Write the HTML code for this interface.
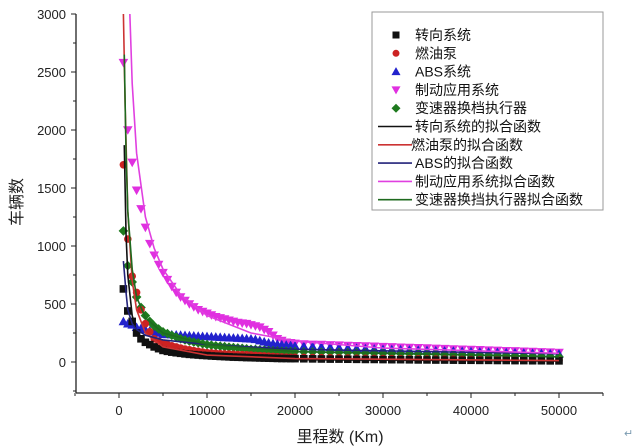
<!DOCTYPE html>
<html><head><meta charset="utf-8"><style>
body{margin:0;background:#fff;}
svg{display:block;font-family:"Liberation Sans","Noto Sans CJK SC",sans-serif;}
</style></head><body>
<svg id="chart" width="640" height="447" viewBox="0 0 640 447" xmlns="http://www.w3.org/2000/svg">
<defs><clipPath id="plotclip"><rect x="76" y="14" width="527" height="378"/></clipPath></defs>
<g id="axes"></g>
<g id="plot" clip-path="url(#plotclip)"></g>
<g id="legend"></g>
<text transform="translate(22,202) rotate(-90)" text-anchor="middle" font-size="16" fill="#222">车辆数</text>
<text x="340" y="442" text-anchor="middle" font-size="16" fill="#222">里程数 (Km)</text>
<text x="624" y="437" font-size="11" fill="#7a9ab0">↵</text>
</svg>
<script>
const xTicks=[0,10000,20000,30000,40000,50000];
const yTicks=[0,500,1000,1500,2000,2500,3000];
const seriesNames=["转向系统","燃油泵","ABS系统","制动应用系统","变速器换档执行器"];
const fitNames=["转向系统的拟合函数","燃油泵的拟合函数","ABS的拟合函数","制动应用系统拟合函数","变速器换挡执行器拟合函数"];
const dataX=[500,1000,1500,2000,2500,3000,3500,4000,4500,5000,5500,6000,6500,7000,7500,8000,8500,9000,9500,10000,10500,11000,11500,12000,12500,13000,13500,14000,14500,15000,15500,16000,16500,17000,17500,18000,18500,19000,19500,20000,
21000,22000,23000,24000,25000,26000,27000,28000,29000,30000,31000,32000,33000,34000,35000,36000,37000,38000,39000,40000,41000,42000,43000,44000,45000,46000,47000,48000,49000,50000];
const steering=[630,440,350,250,200,170,150,130,115,100,92,85,80,75,70,66,63,60,57,55,52,50,48,46,44,42,41,40,38,37,36,35,34,33,32,31,30,30,29,29,
28,27,26,25,25,24,23,22,22,21,20,20,19,18,18,17,17,16,15,15,14,14,13,13,12,12,11,11,10,10];
const fuelPump=[1700,1060,740,600,450,330,260,200,180,160,150,140,130,120,112,105,98,92,86,80,78,75,72,70,68,66,64,63,62,60,57,55,52,50,48,45,44,42,41,40,
39,38,37,36,35,34,33,32,31,30,29,28,27,26,25,25,24,23,22,22,21,20,20,19,18,18,17,16,16,15];
const absSys=[350,330,320,300,290,280,270,260,250,240,238,236,234,232,230,228,226,224,222,220,218,216,214,212,210,208,206,204,202,200,195,185,175,165,160,155,150,147,144,140,
137,134,131,128,125,122,119,116,113,110,108,106,104,102,100,98,96,94,92,90,88,86,84,82,80,78,76,74,72,70];
const brakeSys=[2580,2000,1720,1480,1320,1160,1020,920,840,770,710,650,600,560,530,500,475,450,435,420,405,390,380,370,360,350,340,335,330,320,310,300,280,260,230,200,185,170,165,160,
155,152,150,147,145,142,140,137,135,132,130,127,125,122,120,117,115,112,110,107,105,102,100,97,95,92,90,87,85,82];
const gearbox=[1130,830,690,560,470,400,350,310,285,260,245,230,215,200,190,180,172,165,157,150,145,140,136,132,128,125,121,118,114,110,108,105,102,100,98,95,93,92,91,90,
88,87,85,84,83,81,80,78,77,75,74,72,71,70,68,67,65,64,62,61,59,58,56,55,53,52,50,48,46,44];
const fitX=[[600,800,1000,1500,2000,3000,5000,10000,20000,50000],[450,700,1000,1500,2000,3000,5000,10000,20000,50000],[500,800,1000,1500,2000,3000,5000,10000,20000,50000],[1100,1500,2000,3000,4000,5000,7000,10000,15000,20000,30000,50000],[600,800,1000,1500,2000,3000,5000,10000,20000,50000]];
const fitY=[[1870,1100,750,400,260,150,80,40,20,8],[3200,2200,1300,700,450,250,130,60,30,12],[870,600,450,330,280,230,190,150,110,70],[3300,2400,1800,1250,980,800,580,400,250,180,120,75],[2650,1800,1300,800,560,380,250,150,90,45]];
const colors=["#111111","#cc2222","#2222cc","#e030e0","#1e7a1e"];
const fitColors=["#111111","#cc3333","#22227a","#e040e0","#1e6a1e"];
const markers=["square","circle","tri","tridown","diamond"];

const NS="http://www.w3.org/2000/svg";
function X(v){return 119+v*0.0088;}
function Y(v){return 362-v*0.116;}
function mk(tag,attrs,parent){const e=document.createElementNS(NS,tag);for(const k in attrs)e.setAttribute(k,attrs[k]);parent.appendChild(e);return e;}
function marker(kind,cx,cy,color,parent,s){
  let e;
  if(kind==="square")e=mk("rect",{x:cx-s,y:cy-s,width:2*s,height:2*s,fill:color},parent);
  else if(kind==="circle")e=mk("circle",{cx:cx,cy:cy,r:s,fill:color},parent);
  else if(kind==="tri")e=mk("polygon",{points:`${cx},${cy-s-1} ${cx-s-1},${cy+s} ${cx+s+1},${cy+s}`,fill:color},parent);
  else if(kind==="tridown")e=mk("polygon",{points:`${cx},${cy+s+1} ${cx-s-1},${cy-s} ${cx+s+1},${cy-s}`,fill:color},parent);
  else e=mk("polygon",{points:`${cx},${cy-s-1} ${cx+s+1},${cy} ${cx},${cy+s+1} ${cx-s-1},${cy}`,fill:color},parent);
  return e;
}
const axes=document.getElementById("axes"),plot=document.getElementById("plot"),legend=document.getElementById("legend");
const yl=mk("line",{x1:76,y1:14,x2:76,y2:393,stroke:"#222","stroke-width":1.3},axes);


const xl=mk("line",{x1:76,y1:393,x2:603,y2:393,stroke:"#222","stroke-width":1.3},axes);


yTicks.forEach(v=>{
  mk("line",{x1:71,y1:Y(v),x2:76,y2:Y(v),stroke:"#222"},axes);
  mk("line",{x1:73,y1:Y(v+250),x2:76,y2:Y(v+250),stroke:"#222"},axes);
  const t=mk("text",{x:66,y:Y(v)+5,"text-anchor":"end","font-size":13,fill:"#222"},axes);
  t.textContent=v;
  
  
});
mk("line",{x1:73,y1:Y(-250),x2:76,y2:Y(-250),stroke:"#222"},axes);
xTicks.forEach(v=>{
  mk("line",{x1:X(v),y1:393,x2:X(v),y2:398,stroke:"#222"},axes);
  mk("line",{x1:X(v+5000),y1:393,x2:X(v+5000),y2:396,stroke:"#222"},axes);
  const t=mk("text",{x:X(v),y:415,"text-anchor":"middle","font-size":13,fill:"#222"},axes);
  t.textContent=v;
  
  
});
mk("line",{x1:X(-5000),y1:393,x2:X(-5000),y2:396,stroke:"#222"},axes);
const allData=[steering,fuelPump,absSys,brakeSys,gearbox];
const order=[3,2,4,1,0];
order.forEach(i=>{
  const g=mk("g",{},plot);
  
  
  dataX.forEach((xv,j)=>{
    const m=marker(markers[i],X(xv),Y(allData[i][j]),colors[i],g,3.8);
    
    
  });
});
fitX.forEach((xs,i)=>{
  const p=mk("polyline",{points:xs.map((xv,j)=>X(xv)+","+Y(fitY[i][j])).join(" "),fill:"none",stroke:fitColors[i],"stroke-width":1.6},plot);
  
  
});
const box=mk("rect",{x:372,y:12,width:231,height:198,fill:"#fff",stroke:"#999","stroke-width":1},legend);


seriesNames.forEach((n,i)=>{
  const y=35+i*18.3;
  marker(markers[i],396,y,colors[i],legend,3.5);
  const t=mk("text",{x:415,y:y+5,"font-size":14,fill:"#111"},legend);
  t.textContent=n;
  
  
});
fitNames.forEach((n,i)=>{
  const y=35+(i+5)*18.3;
  mk("line",{x1:378,y1:y,x2:412,y2:y,stroke:fitColors[i],"stroke-width":1.6},legend);
  const t=mk("text",{x:i===1?411:415,y:y+5,"font-size":14,fill:"#111"},legend);
  t.textContent=n;
  
  
});
</script>
</body></html>
